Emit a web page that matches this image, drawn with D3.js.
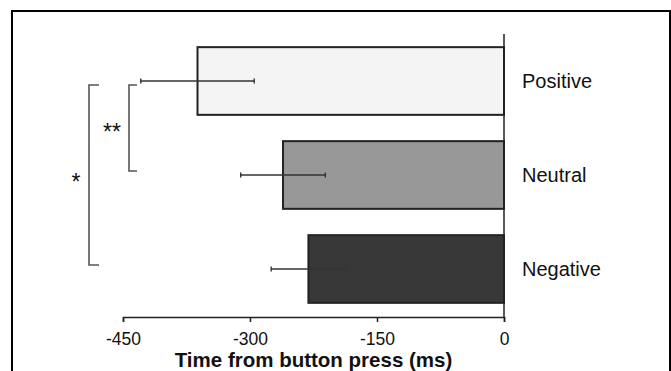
<!DOCTYPE html>
<html>
<head>
<meta charset="utf-8">
<script src="https://cdn.jsdelivr.net/npm/d3@7.9.0/dist/d3.min.js"></script>
<style>
  body { margin: 0; background: #fff; }
  svg { display: block; font-family: Arial, "Liberation Sans", Helvetica, sans-serif; }
</style>
</head>
<body>
<svg id="chart" width="671" height="371"></svg>
<script>
// data
const categories = ['Positive', 'Neutral', 'Negative'];
const means = [-362, -261, -231];
const errors = [67, 50, 44];
const fills = ['#f3f4f3', '#989898', '#383838'];
const ticks = [-450, -300, -150, 0];

// significance brackets
const brackets = [
  { from: 'Positive', to: 'Negative', label: '*', level: 0 },
  { from: 'Positive', to: 'Neutral', label: '**', level: 1 }
];

const svg = d3.select('#chart');

// outer frame (bottom edge is cut off in the original)
svg.append('rect')
  .attr('x', 12).attr('y', 11)
  .attr('width', 658).attr('height', 380)
  .attr('fill', 'none')
  .attr('stroke', '#000')
  .attr('stroke-width', 2);

let x = d3.scaleLinear().domain([-450, 0]).range([123, 504]);
let y = d3.scaleBand()
  .domain(categories)
  .range([34, 316])
  .paddingInner(0.28)
  .paddingOuter(0.14);

// bars
svg.selectAll('rect.bar')
  .data(categories)
  .join('rect')
  .attr('class', 'bar')
  .attr('x', (d, i) => x(means[i]))
  .attr('y', d => y(d))
  .attr('width', (d, i) => x(0) - x(means[i]))
  .attr('height', y.bandwidth())
  .attr('fill', (d, i) => fills[i])
  .attr('stroke', '#222')
  .attr('stroke-width', 2);

// error bars
categories.forEach((c, i) => {
  let cy = y(c) + y.bandwidth() / 2;
  let g = svg.append('g').attr('stroke', '#333').attr('stroke-width', 1.4);
  g.append('line')
    .attr('x1', x(means[i] - errors[i])).attr('x2', x(means[i] + errors[i]))
    .attr('y1', cy).attr('y2', cy);
  [means[i] - errors[i], means[i] + errors[i]].forEach(v => {
    g.append('line')
      .attr('x1', x(v)).attr('x2', x(v))
      .attr('y1', cy - 2.5).attr('y2', cy + 2.5);
  });
});

// vertical zero line
svg.append('line')
  .attr('x1', x(0)).attr('x2', x(0))
  .attr('y1', 34).attr('y2', 317)
  .attr('stroke', '#222')
  .attr('stroke-width', 1.5);

// category labels
svg.selectAll('text.cat')
  .data(categories)
  .join('text')
  .attr('class', 'cat')
  .attr('x', 522)
  .attr('y', d => y(d) + y.bandwidth() / 2 + 7)
  .attr('font-size', 20)
  .attr('fill', '#111')
  .text(d => d);

// x axis
let xAxis = d3.axisBottom(x).tickValues(ticks).tickSize(5).tickSizeOuter(5);
let axisG = svg.append('g')
  .attr('transform', 'translate(0,317)')
  .call(xAxis);
axisG.select('.domain').attr('stroke', '#222').attr('stroke-width', 1.5);
axisG.selectAll('.tick line').attr('stroke', '#222').attr('stroke-width', 1.5);
axisG.selectAll('.tick text')
  .attr('font-size', 17.5)
  .attr('font-family', 'Arial, "Liberation Sans", sans-serif')
  .attr('fill', '#111')
  .attr('dy', null)
  .attr('y', 28)
  .text(d => String(d));

svg.append('text')
  .attr('x', (x(-450) + x(0)) / 2)
  .attr('y', 367)
  .attr('text-anchor', 'middle')
  .attr('font-size', 20.5)
  .attr('font-weight', 'bold')
  .attr('fill', '#111')
  .text('Time from button press (ms)');

// significance brackets
const bracketX = [89, 129];
const capLen = [10, 8];
const labelX = [76, 112];
const labelY = [190, 140];
brackets.forEach(b => {
  let top = y(b.from) + y.bandwidth() / 2 + 4;
  let bottom = y(b.to) + y.bandwidth() / 2 - 4;
  let bx = bracketX[b.level];
  svg.append('path')
    .attr('d', `M${bx + capLen[b.level]},${top}H${bx}V${bottom}H${bx + capLen[b.level]}`)
    .attr('fill', 'none')
    .attr('stroke', '#555')
    .attr('stroke-width', 1.6);
  svg.append('text')
    .attr('x', labelX[b.level])
    .attr('y', labelY[b.level])
    .attr('text-anchor', 'middle')
    .attr('font-size', 23)
    .attr('fill', '#111')
    .text(b.label);
});
</script>
</body>
</html>
